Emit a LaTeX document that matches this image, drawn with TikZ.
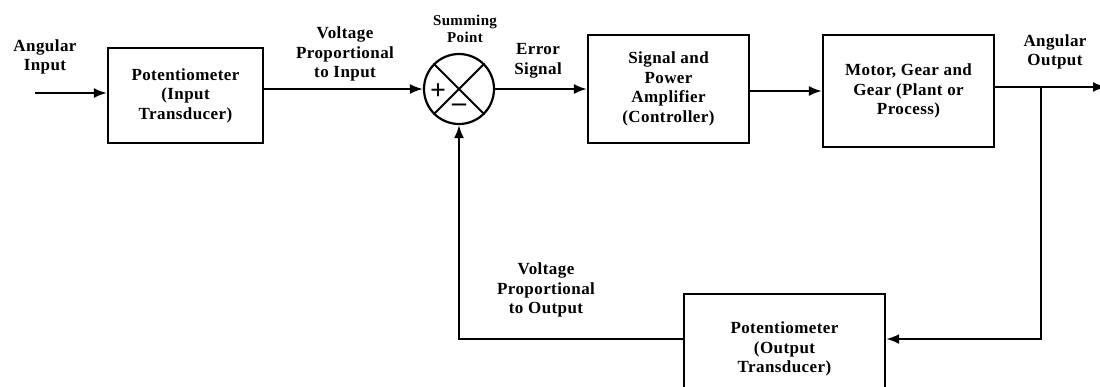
\documentclass[tikz,border=0pt]{standalone}
\usepackage{fontspec}
\setmainfont{Liberation Serif}[LetterSpace=2.5]
\usepackage{tikz}
\usetikzlibrary{arrows.meta, positioning}

\begin{document}
\begin{tikzpicture}[
  x=1pt, y=-1pt,
  block/.style={rectangle, draw, line width=2.4pt, align=center, inner sep=2pt,
    font=\bfseries\fontsize{17}{19.5}\selectfont},
  label/.style={align=center, inner sep=0pt, font=\bfseries\fontsize{17}{19.5}\selectfont},
  wire/.style={line width=2pt, -{Latex[length=13pt, width=10pt]}},
  sumpoint/.style={circle, draw, line width=2.2pt, minimum size=70pt, inner sep=0pt},
]
\useasboundingbox (0,0) rectangle (1100,386);

% forward path
\node[block, minimum width=155pt, minimum height=95pt] (intrans) at (185.5,95.5)
  {Potentiometer\\(Input\\Transducer)};
\node[sumpoint] (sum) at (459,89) {};
\node[block, minimum width=161pt, minimum height=108pt] (amp) at (668.5,89)
  {Signal and\\Power\\Amplifier\\(Controller)};
\node[block, minimum width=171pt, minimum height=112pt] (plant) at (908.5,91)
  {Motor, Gear and\\Gear (Plant or\\Process)};

% feedback path
\node[block, minimum width=201pt, minimum height=110pt] (outtrans) at (784.5,349)
  {Potentiometer\\(Output\\Transducer)};

% summing point cross and signs
\draw[line width=2pt] (sum.north west) -- (sum.south east);
\draw[line width=2pt] (sum.north east) -- (sum.south west);
\node[font=\bfseries\fontsize{28}{28}\selectfont] (plus) at (438,92) {+};
\node[font=\bfseries\fontsize{28}{28}\selectfont] (minus) at (459,108) {\textendash};

% labels
\node[label] (inlabel) at (45,57) {Angular\\Input};
\node[label] (vinlabel) at (345,54) {Voltage\\Proportional\\to Input};
\node[label, font=\bfseries\fontsize{15}{16.5}\selectfont] (sumlabel) at (465,29) {Summing\\Point};
\node[label] (errlabel) at (538,61) {Error\\Signal};
\node[label] (outlabel) at (1055,52) {Angular\\Output};
\node[label] (voutlabel) at (546,290) {Voltage\\Proportional\\to Output};

% connectors
\coordinate (in) at (35,93);
\coordinate (out) at (1106,87);
\coordinate (branch) at (1041,87);
\coordinate (tap) at (1041,339);
\coordinate (ret) at (459,339);

\draw[wire] (in) -- (in -| intrans.west);
\draw[wire] (intrans.east |- sum.west) -- (sum.west);
\draw[wire] (sum.east) -- (sum.east -| amp.west);
\draw[wire] (amp.east |- plant.west) -- (plant.west);
\draw[wire] (plant.east |- out) -- (out);
\draw[wire] (branch) -- (tap) -- (tap -| outtrans.east);
\draw[wire] (outtrans.west |- ret) -- (ret) -- (sum.south);
\end{tikzpicture}
\end{document}
